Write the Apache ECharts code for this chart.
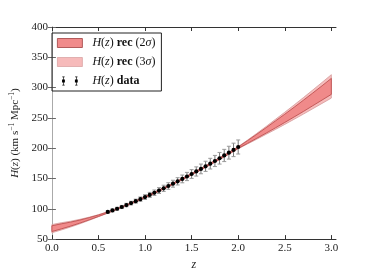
<!DOCTYPE html>
<html>
<head>
<meta charset="utf-8">
<script src="https://cdn.jsdelivr.net/npm/echarts@6/dist/echarts.min.js"></script>
<style>html,body{margin:0;padding:0;background:#fff}#c{width:374px;height:276px}</style>
</head>
<body>
<div id="c"></div>
<script>
// ---- data ----
var bandZ = [0.0,0.1,0.2,0.3,0.4,0.5,0.6,0.7,0.8,0.9,1.0,1.1,1.2,1.3,1.4,1.5,1.6,1.7,1.8,1.9,2.0,2.1,2.2,2.3,2.4,2.5,2.6,2.7,2.8,2.9,3.0];
var lo3 = [60.5,65.0,69.9,75.2,81.0,86.9,92.8,98.6,104.8,111.2,118.0,125.0,132.3,139.9,147.6,155.7,163.9,172.4,181.0,189.9,199.0,207.0,214.9,222.9,231.0,239.3,247.7,256.3,265.1,273.9,282.7];
var hi3 = [74.0,77.0,79.5,82.6,86.2,90.3,95.2,101.0,107.2,113.6,120.4,127.6,134.9,142.5,150.4,158.5,166.9,175.6,184.4,193.5,202.6,213.4,224.5,235.9,247.6,259.3,271.3,283.5,295.9,308.5,321.3];
var lo2 = [62.5,66.8,71.4,76.4,81.8,87.4,93.2,99.0,105.2,111.6,118.4,125.4,132.7,140.3,148.1,156.2,164.4,172.9,181.6,190.5,199.6,208.0,216.4,224.9,233.6,242.5,251.5,260.6,270.0,279.4,288.8];
var hi2 = [72.0,75.2,78.0,81.4,85.4,89.8,94.8,100.6,106.8,113.2,120.0,127.2,134.5,142.1,149.9,158.0,166.4,175.1,183.8,192.9,202.0,212.4,223.0,233.9,245.0,256.1,267.5,279.2,291.0,303.0,315.2];
var dataZ = [0.60,0.65,0.70,0.75,0.80,0.85,0.90,0.95,1.00,1.05,1.10,1.15,1.20,1.25,1.30,1.35,1.40,1.45,1.50,1.55,1.60,1.65,1.70,1.75,1.80,1.85,1.90,1.95,2.00];
var dataH = [94.8,97.3,100.1,103.0,106.2,109.4,112.6,115.9,119.4,122.9,126.5,130.1,133.8,137.6,141.4,145.3,149.3,153.3,157.4,161.6,165.8,170.1,174.5,178.9,183.4,188.0,192.6,197.2,202.0];
var dataErr = [2.0,2.2,2.4,2.6,2.8,3.0,3.3,3.6,3.9,4.2,4.5,4.8,5.1,5.4,5.7,6.0,6.4,6.8,7.2,7.6,8.0,8.4,8.8,9.2,9.6,10.1,10.6,11.1,11.6];
var xTicks = [0,0.5,1.0,1.5,2.0,2.5,3.0];

var SERIF = '"Liberation Serif","DejaVu Serif",serif';

function bandSeries(name, lo, hi, fill, stroke) {
  var rows = bandZ.map(function (z, i) { return [z, lo[i], hi[i]]; });
  return {
    name: name, type: 'custom', data: rows,
    itemStyle: { color: fill, borderColor: stroke },
    encode: { x: 0, y: [1, 2] },
    renderItem: function (params, api) {
      if (params.dataIndex !== 0) return null;
      var pts = [];
      for (var i = 0; i < rows.length; i++) pts.push(api.coord([rows[i][0], rows[i][2]]));
      for (var j = rows.length - 1; j >= 0; j--) pts.push(api.coord([rows[j][0], rows[j][1]]));
      return { type: 'polygon', shape: { points: pts },
        style: { fill: fill, stroke: stroke, lineWidth: 0.8 } };
    },
    z: 2
  };
}

var errRows = dataZ.map(function (z, i) { return [z, dataH[i], dataErr[i]]; });

var chart = echarts.init(document.getElementById('c'), null, { renderer: 'canvas' });
chart.setOption({
  animation: false,
  backgroundColor: '#fff',
  grid: { left: 47, right: 38, top: 27, bottom: 27.5, containLabel: false },
  xAxis: [{
    type: 'value', min: 0, max: 3.05, position: 'bottom',
    name: 'z', nameLocation: 'middle', nameGap: 13,
    nameTextStyle: { fontFamily: SERIF, fontStyle: 'italic', fontSize: 12, color: '#222' },
    axisLine: { show: true, lineStyle: { color: '#333', width: 1 } },
    axisTick: { show: true, inside: true, length: 4, lineStyle: { color: '#333' }, customValues: xTicks },
    axisLabel: { fontFamily: SERIF, fontSize: 11, color: '#222', margin: 4, customValues: xTicks,
      formatter: function (v) { return v.toFixed(1); } },
    splitLine: { show: false }
  }, {
    type: 'value', min: 0, max: 3.05, position: 'top',
    axisLine: { show: true, lineStyle: { color: '#333', width: 1 } },
    axisTick: { show: true, inside: true, length: 4, lineStyle: { color: '#333' }, customValues: xTicks },
    axisLabel: { show: false }, splitLine: { show: false }
  }],
  yAxis: [{
    type: 'value', min: 50, max: 400, interval: 50, position: 'left',
    name: '{i|H}({i|z}) (km s{s|−1} Mpc{s|−1})', nameLocation: 'middle', nameGap: 19,
    nameTextStyle: { fontFamily: SERIF, fontSize: 11, color: '#222',
      rich: { i: { fontFamily: SERIF, fontStyle: 'italic', fontSize: 11, color: '#222' },
              s: { fontFamily: SERIF, fontSize: 7.5, color: '#222', verticalAlign: 'top', padding: [0, 0, 6, 0] } } },
    axisLine: { show: true, lineStyle: { color: '#aaa', width: 1 } },
    axisTick: { show: true, inside: true, length: 4, lineStyle: { color: '#666' } },
    axisLabel: { fontFamily: SERIF, fontSize: 11, color: '#222', margin: 4 },
    splitLine: { show: false }
  }, {
    type: 'value', min: 50, max: 400, interval: 50, position: 'right',
    axisLine: { show: true, lineStyle: { color: '#aaa', width: 1 } },
    axisTick: { show: true, inside: true, length: 4, lineStyle: { color: '#666' } },
    axisLabel: { show: false }, splitLine: { show: false }
  }],
  legend: {
    orient: 'vertical', left: 52, top: 33, selectedMode: false,
    borderColor: '#222', borderWidth: 1, padding: [3, 6, 3, 5],
    itemWidth: 25, itemHeight: 9, itemGap: 5,
    textStyle: { fontFamily: SERIF, fontSize: 12, color: '#111', lineHeight: 14, padding: [0, 0, 0, 5],
      rich: { i: { fontFamily: SERIF, fontStyle: 'italic', fontSize: 12, color: '#111' },
              b: { fontFamily: SERIF, fontWeight: 'bold', fontSize: 12, color: '#111' } } },
    data: [
      { name: 'rec2', icon: 'rect', itemStyle: { color: '#f08a8a', borderColor: '#a04040', borderWidth: 0.8 } },
      { name: 'rec3', icon: 'rect', itemStyle: { color: '#f6baba', borderColor: '#d09090', borderWidth: 0.6 } },
      { name: 'data', icon: 'path://M2.5,0h1v14h-1z M1.2,0h3.6v1h-3.6z M1.2,13h3.6v1h-3.6z M0.8,4.8h4.4v4.4h-4.4z M22.5,0h1v14h-1z M21.2,0h3.6v1h-3.6z M21.2,13h3.6v1h-3.6z M20.8,4.8h4.4v4.4h-4.4z',
        itemStyle: { color: '#000' } }
    ],
    formatter: function (n) {
      if (n === 'rec2') return '{i|H}({i|z}) {b|rec} (2{i|σ})';
      if (n === 'rec3') return '{i|H}({i|z}) {b|rec} (3{i|σ})';
      return '{i|H}({i|z}) {b|data}';
    }
  },
  series: [
    bandSeries('rec3', lo3, hi3, '#f6bcbc', '#d49a9a'),
    bandSeries('rec2', lo2, hi2, '#f08a8a', '#b84848'),
    {
      name: 'data', type: 'custom', data: errRows, z: 5,
      itemStyle: { color: '#000' },
      encode: { x: 0, y: 1 },
      renderItem: function (params, api) {
        var z = api.value(0), h = api.value(1), e = api.value(2);
        var top = api.coord([z, h + e]), bot = api.coord([z, h - e]), c = api.coord([z, h]);
        return { type: 'group', children: [
          { type: 'line', shape: { x1: c[0], y1: top[1], x2: c[0], y2: bot[1] }, style: { stroke: '#777', lineWidth: 1 } },
          { type: 'line', shape: { x1: c[0] - 2, y1: top[1], x2: c[0] + 2, y2: top[1] }, style: { stroke: '#999', lineWidth: 1 } },
          { type: 'line', shape: { x1: c[0] - 2, y1: bot[1], x2: c[0] + 2, y2: bot[1] }, style: { stroke: '#999', lineWidth: 1 } },
          { type: 'circle', shape: { cx: c[0], cy: c[1], r: 2.1 }, style: { fill: '#000' } }
        ] };
      }
    }
  ]
});
</script>
</body>
</html>
